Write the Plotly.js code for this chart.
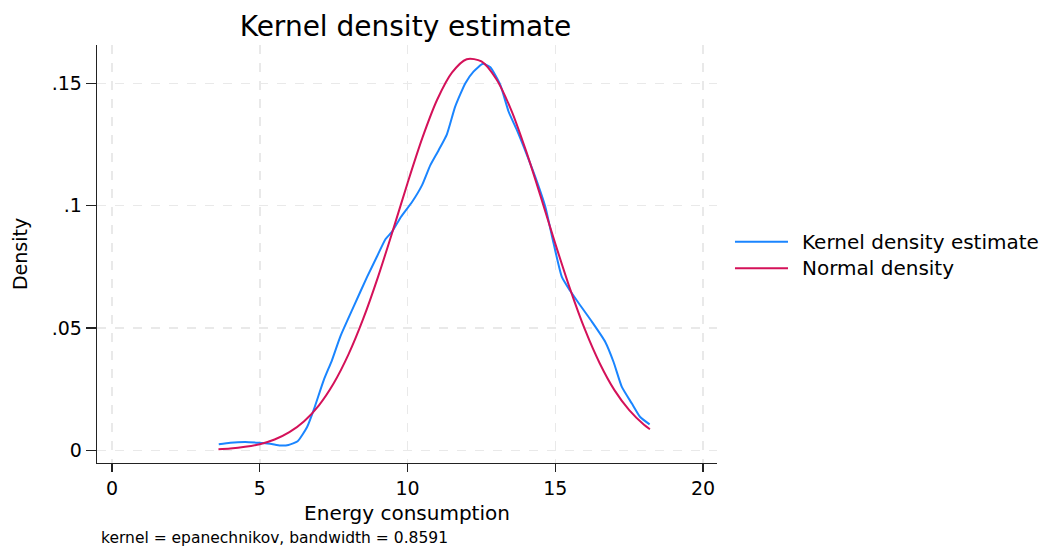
<!DOCTYPE html>
<html>
<head>
<meta charset="utf-8">
<script src="https://cdn.plot.ly/plotly-3.0.1.min.js"></script>
<style>html,body{margin:0;padding:0;background:#fff;}#chart{width:1040px;height:546px;}</style>
</head>
<body>
<div id="chart"></div>
<script>
// Kernel density estimate
const kdeX = [3.61, 4.0, 4.51, 5.02, 5.35, 5.69, 5.97, 6.28, 6.60, 6.82, 7.16, 7.44, 7.72, 8.17, 8.63, 8.96, 9.25, 9.47, 9.78, 10.15, 10.49, 10.77, 11.05, 11.33, 11.61, 11.95, 12.23, 12.55, 12.80, 13.14, 13.42, 13.70, 14.04, 14.38, 14.66, 14.94, 15.22, 15.50, 15.84, 16.24, 16.69, 16.97, 17.25, 17.59, 17.87, 18.19];
const kdeY = [0.0025, 0.0031, 0.0034, 0.0030, 0.0027, 0.0020, 0.0022, 0.0037, 0.0095, 0.0164, 0.0286, 0.0368, 0.0464, 0.0586, 0.0709, 0.0791, 0.0863, 0.0893, 0.0955, 0.1015, 0.1084, 0.1166, 0.1227, 0.1292, 0.1405, 0.1500, 0.1548, 0.1580, 0.1566, 0.1493, 0.1384, 0.1309, 0.1207, 0.1098, 0.0996, 0.0846, 0.0709, 0.0652, 0.0593, 0.0525, 0.0443, 0.0361, 0.0259, 0.0191, 0.0136, 0.0106];
// Normal density
const normX = [3.6, 4.0, 4.5, 5.0, 5.5, 6.0, 6.5, 7.0, 7.5, 8.0, 8.5, 9.0, 9.5, 10.0, 10.5, 11.0, 11.5, 12.0, 12.5, 13.0, 13.5, 14.0, 14.5, 15.0, 15.5, 16.0, 16.5, 17.0, 17.5, 18.0, 18.2];
const normY = [0.0004, 0.0007, 0.0014, 0.0025, 0.0044, 0.0074, 0.0119, 0.0184, 0.0274, 0.0392, 0.0538, 0.0709, 0.0898, 0.1093, 0.1277, 0.1433, 0.1544, 0.1599, 0.1590, 0.1518, 0.1393, 0.1227, 0.1039, 0.0844, 0.0659, 0.0494, 0.0356, 0.0246, 0.0164, 0.0104, 0.0086];

const xTicks = [0, 5, 10, 15, 20];
const yTicks = [0, 0.05, 0.1, 0.15];
const yTickLabels = ["0", ".05", ".1", ".15"];
const seriesNames = ["Kernel density estimate", "Normal density"];
const seriesColors = ["#1a85ff", "#d41159"];
const noteText = "kernel = epanechnikov, bandwidth = 0.8591";

const FONT = "DejaVu Sans, Verdana, sans-serif";

const traces = [
  {x: kdeX, y: kdeY, type: "scatter", mode: "lines", name: seriesNames[0],
   line: {color: seriesColors[0], width: 2, shape: "spline", smoothing: 0.5}},
  {x: normX, y: normY, type: "scatter", mode: "lines", name: seriesNames[1],
   line: {color: seriesColors[1], width: 2, shape: "spline", smoothing: 0.8}}
];

// manual legend (line samples + labels) in paper coordinates
const legendY = [0.5294, 0.4658];
const legendShapes = seriesNames.map((n, i) => ({
  type: "line", xref: "paper", yref: "paper", x0: 1.029, x1: 1.1145, y0: legendY[i], y1: legendY[i],
  line: {color: seriesColors[i], width: 2}
}));
const legendLabels = seriesNames.map((n, i) => ({
  text: n, xref: "paper", yref: "paper", x: 1.134, y: legendY[i], xanchor: "left", yanchor: "middle",
  showarrow: false, font: {size: 20, family: FONT, color: "#000"}
}));

const layout = {
  width: 1040, height: 546,
  paper_bgcolor: "#fff", plot_bgcolor: "#fff",
  margin: {l: 97, r: 323, t: 45, b: 83},
  font: {family: FONT, color: "#000", size: 19},
  title: {text: "Kernel density estimate", font: {family: FONT, size: 28, color: "#000"},
          x: 0.3899, xanchor: "center", y: 0.952, yanchor: "middle"},
  xaxis: {
    range: [-0.51, 20.47], tickvals: xTicks, ticks: "outside", ticklen: 8, tickwidth: 1.3,
    tickcolor: "#222", showline: true, linecolor: "#222", linewidth: 1.3,
    showgrid: true, gridcolor: "#e9e9e9", griddash: "dash", gridwidth: 1.5, zeroline: false,
    tickfont: {size: 19},
    title: {text: "Energy consumption", font: {size: 20}, standoff: 8}
  },
  yaxis: {
    range: [-0.0052, 0.1657], tickvals: yTicks, ticktext: yTickLabels, ticks: "outside", ticklen: 10, tickwidth: 1.3,
    tickcolor: "#222", showline: true, linecolor: "#222", linewidth: 1.3,
    showgrid: true, gridcolor: "#e9e9e9", griddash: "dash", gridwidth: 1.5, zeroline: false,
    tickfont: {size: 19},
    title: {text: "Density", font: {size: 19}, standoff: 19}
  },
  showlegend: false,
  shapes: legendShapes,
  annotations: legendLabels.concat([
    {text: noteText, xref: "paper", yref: "paper",
     x: 0.004, y: -0.179, xanchor: "left", yanchor: "middle", showarrow: false,
     font: {size: 15.5, family: FONT, color: "#000"}}
  ])
};

Plotly.newPlot("chart", traces, layout, {staticPlot: true, displayModeBar: false});
</script>
</body>
</html>
